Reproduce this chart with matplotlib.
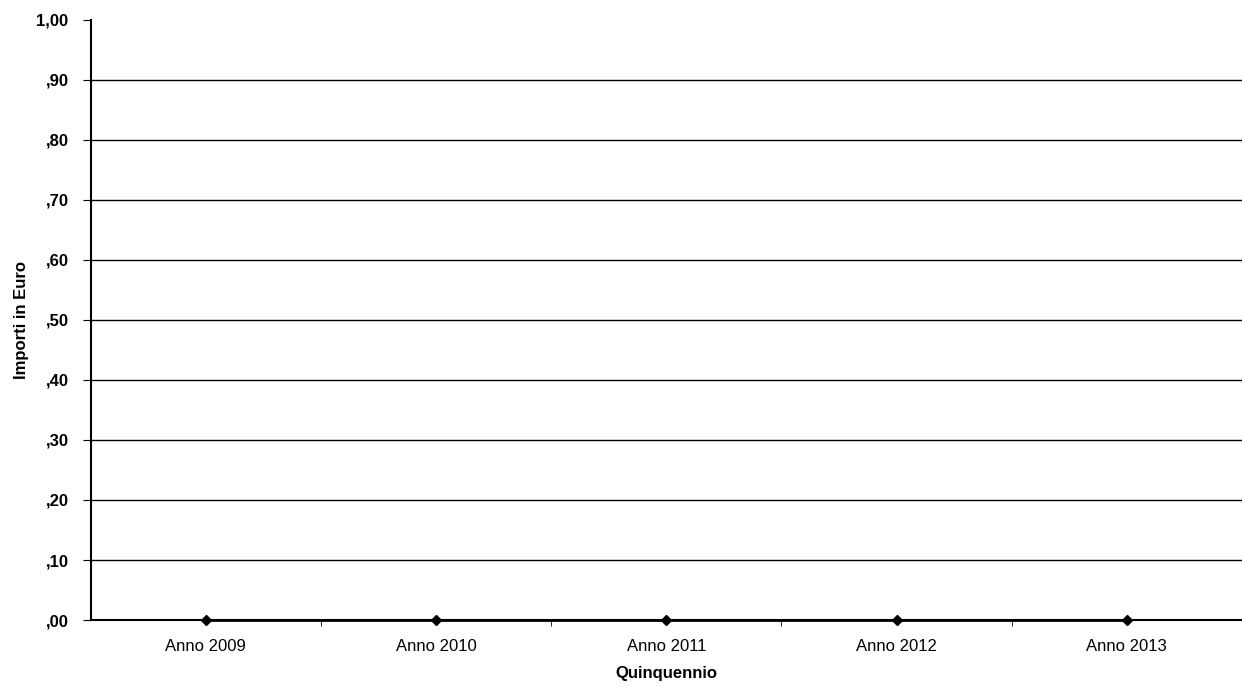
import matplotlib.pyplot as plt
from matplotlib.ticker import FuncFormatter

# data
anni = ["Anno 2009", "Anno 2010", "Anno 2011", "Anno 2012", "Anno 2013"]
importi = [0.0, 0.0, 0.0, 0.0, 0.0]
y_ticks = [0.0, 0.1, 0.2, 0.3, 0.4, 0.5, 0.6, 0.7, 0.8, 0.9, 1.0]

plt.rcParams['font.family'] = ['Liberation Sans', 'DejaVu Sans']


def fmt_euro(v, pos):
    s = f"{v:.2f}".replace(".", ",")
    if s.startswith("0,"):
        s = s[1:]
    return s


fig = plt.figure(figsize=(12.42, 6.87), dpi=100)
ax = fig.add_axes([0.073, 0.0975, 0.927, 0.8735])

x = list(range(len(anni)))
ax.plot(x, importi, color="black", linewidth=2, marker="D", markersize=5,
        zorder=3, clip_on=False)

ax.set_ylim(0, 1.0)
ax.set_xlim(-0.5, len(anni) - 0.5)
ax.set_yticks(y_ticks)
ax.yaxis.set_major_formatter(FuncFormatter(fmt_euro))
ax.grid(axis="y", color="black", linewidth=1)
# no gridline on the top value, only the tick
ax.get_ygridlines()[-1].set_visible(False)

ax.set_xticks(x)
ax.set_xticklabels(anni)
ax.set_xticks([i + 0.5 for i in range(len(anni) - 1)], minor=True)
ax.tick_params(axis="x", which="major", length=0, pad=14, labelsize=12)
ax.tick_params(axis="x", which="minor", length=4, direction="out", color="black")
ax.tick_params(axis="y", length=6, direction="out", color="black", labelsize=12, pad=10)
for lab in ax.get_yticklabels():
    lab.set_fontweight("bold")

for side in ["top", "right"]:
    ax.spines[side].set_visible(False)
ax.spines["left"].set_color("black")
ax.spines["left"].set_linewidth(1.5)
ax.spines["bottom"].set_color("black")
ax.spines["bottom"].set_linewidth(1.5)

ax.set_xlabel("Quinquennio", fontweight="bold", fontsize=12, labelpad=8)
ax.set_ylabel("Importi in Euro", fontweight="bold", fontsize=12, labelpad=5)

fig.savefig("out.png", dpi=100)
plt.close(fig)
